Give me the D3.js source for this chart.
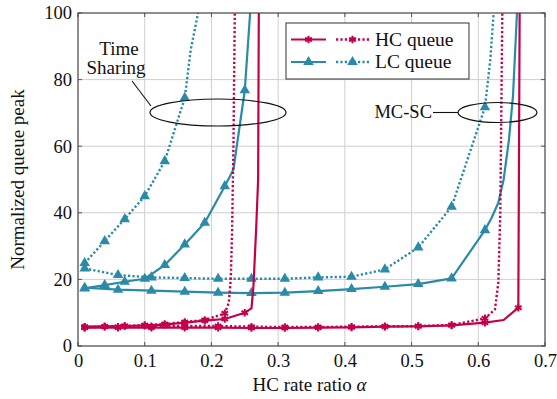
<!DOCTYPE html>
<html>
<head>
<meta charset="utf-8">
<script src="https://cdn.jsdelivr.net/npm/d3@7"></script>
<style>
  body { margin: 0; background: #fff; }
  svg text { font-family: "Liberation Serif", "DejaVu Serif", serif; fill: #111; }
</style>
</head>
<body>
<svg id="chart" width="557" height="399"></svg>
<script>
// ---- data ----
var xTicks = [0, 0.1, 0.2, 0.3, 0.4, 0.5, 0.6, 0.7];
var yTicks = [0, 20, 40, 60, 80, 100];

// marker positions for each group
var tsMarkX = [0.01, 0.04, 0.07, 0.10, 0.13, 0.16, 0.19, 0.22, 0.25];
var mcMarkX = [0.01, 0.06, 0.11, 0.16, 0.21, 0.26, 0.31, 0.36, 0.41, 0.46, 0.51, 0.56, 0.61, 0.66];

// Time Sharing
var tsHcSolid = [[0.01, 5.8], [0.04, 5.9], [0.07, 6.0], [0.10, 6.2], [0.13, 6.4], [0.16, 7.0], [0.19, 7.6],
                 [0.22, 8.1], [0.25, 10.0], [0.26, 11.3], [0.263, 18], [0.267, 35], [0.27, 50], [0.271, 100]];
var tsHcDot   = [[0.01, 5.6], [0.04, 5.8], [0.07, 6.0], [0.10, 6.2], [0.13, 6.6], [0.16, 7.2], [0.19, 7.8],
                 [0.22, 9.8], [0.226, 13], [0.229, 20], [0.231, 35], [0.233, 60], [0.235, 100]];
var tsLcSolid = [[0.01, 17.3], [0.04, 18.3], [0.07, 19.3], [0.10, 20.2], [0.13, 24.3], [0.16, 30.5], [0.19, 37],
                 [0.22, 48], [0.233, 53], [0.25, 76.8], [0.258, 100]];
var tsLcDot   = [[0.01, 24.9], [0.04, 31.5], [0.07, 38.1], [0.10, 45], [0.13, 55.5], [0.16, 74.5],
                 [0.169, 89], [0.18, 100]];

// MC-SC
var mcHcSolid = [[0.01, 5.5], [0.06, 5.5], [0.11, 5.5], [0.16, 5.5], [0.21, 5.5], [0.26, 5.4], [0.31, 5.4],
                 [0.36, 5.5], [0.41, 5.6], [0.46, 5.8], [0.51, 5.9], [0.56, 6.2], [0.61, 7.0], [0.638, 7.8],
                 [0.66, 11.5], [0.662, 100]];
var mcHcDot   = [[0.01, 5.7], [0.06, 5.8], [0.11, 5.9], [0.16, 6.0], [0.21, 6.0], [0.26, 5.8], [0.31, 5.7],
                 [0.36, 5.7], [0.41, 5.8], [0.46, 5.9], [0.51, 6.0], [0.56, 6.3], [0.61, 8.3], [0.625, 11],
                 [0.63, 19], [0.633, 40], [0.636, 100]];
var mcLcSolid = [[0.01, 17.5], [0.06, 16.9], [0.11, 16.6], [0.16, 16.3], [0.21, 16.0], [0.26, 15.9], [0.31, 16.0],
                 [0.36, 16.5], [0.41, 17.1], [0.46, 17.8], [0.51, 18.6], [0.56, 20.3], [0.61, 34.8], [0.62, 38.5],
                 [0.63, 43], [0.638, 50], [0.646, 62], [0.652, 75], [0.658, 100]];
var mcLcDot   = [[0.01, 23.3], [0.06, 21.3], [0.11, 20.6], [0.16, 20.4], [0.21, 20.2], [0.26, 20.2], [0.31, 20.2],
                 [0.36, 20.6], [0.41, 20.8], [0.46, 23.0], [0.51, 29.6], [0.56, 41.8], [0.61, 71.7],
                 [0.618, 86], [0.623, 100]];

var HC = '#c4004b', LC = '#2a8aa8';

var series = [
  {pts: tsLcDot,   color: LC, dot: true,  mark: 'tri',  marks: tsMarkX},
  {pts: tsLcSolid, color: LC, dot: false, mark: 'tri',  marks: tsMarkX},
  {pts: mcLcDot,   color: LC, dot: true,  mark: 'tri',  marks: mcMarkX},
  {pts: mcLcSolid, color: LC, dot: false, mark: 'tri',  marks: mcMarkX},
  {pts: tsHcDot,   color: HC, dot: true,  mark: 'star', marks: tsMarkX},
  {pts: tsHcSolid, color: HC, dot: false, mark: 'star', marks: tsMarkX},
  {pts: mcHcDot,   color: HC, dot: true,  mark: 'star', marks: mcMarkX},
  {pts: mcHcSolid, color: HC, dot: false, mark: 'star', marks: mcMarkX}
];

// ---- layout ----
var W = 557, H = 399;
var margin = {top: 13, right: 12, bottom: 53, left: 78};
var iw = W - margin.left - margin.right,
    ih = H - margin.top - margin.bottom;

var svg = d3.select('#chart');
var g = svg.append('g').attr('transform', 'translate(' + margin.left + ',' + margin.top + ')');

var x = d3.scaleLinear().domain([0, 0.7]).range([0, iw]);
var y = d3.scaleLinear().domain([0, 100]).range([ih, 0]);

// grid
g.append('g').selectAll('line.gx').data(xTicks.slice(1, -1)).enter().append('line')
  .attr('x1', function (d) { return x(d); }).attr('x2', function (d) { return x(d); })
  .attr('y1', 0).attr('y2', ih)
  .attr('stroke', '#cfcfcf').attr('stroke-width', 1);
g.append('g').selectAll('line.gy').data(yTicks.slice(1, -1)).enter().append('line')
  .attr('y1', function (d) { return y(d); }).attr('y2', function (d) { return y(d); })
  .attr('x1', 0).attr('x2', iw)
  .attr('stroke', '#cfcfcf').attr('stroke-width', 1);

// axes (labels only, ticks drawn inward below)
var xAxis = g.append('g').attr('transform', 'translate(0,' + ih + ')')
  .call(d3.axisBottom(x).tickValues(xTicks).tickSize(0).tickPadding(8).tickFormat(d3.format('')));
var yAxis = g.append('g')
  .call(d3.axisLeft(y).tickValues(yTicks).tickSize(0).tickPadding(6).tickFormat(d3.format('')));
[xAxis, yAxis].forEach(function (a) {
  a.select('.domain').remove();
  a.selectAll('text').style('font-size', '18.5px').attr('fill', '#111');
});

// inward tick marks on all four sides
var tl = 4;
xTicks.forEach(function (t) {
  g.append('line').attr('x1', x(t)).attr('x2', x(t)).attr('y1', ih).attr('y2', ih - tl).attr('stroke', '#555');
  g.append('line').attr('x1', x(t)).attr('x2', x(t)).attr('y1', 0).attr('y2', tl).attr('stroke', '#555');
});
yTicks.forEach(function (t) {
  g.append('line').attr('y1', y(t)).attr('y2', y(t)).attr('x1', 0).attr('x2', tl).attr('stroke', '#555');
  g.append('line').attr('y1', y(t)).attr('y2', y(t)).attr('x1', iw).attr('x2', iw - tl).attr('stroke', '#555');
});

// clip
svg.append('defs').append('clipPath').attr('id', 'clip')
  .append('rect').attr('x', 0).attr('y', 0).attr('width', iw).attr('height', ih);

var line = d3.line().x(function (d) { return x(d[0]); }).y(function (d) { return y(d[1]); });
var plot = g.append('g').attr('clip-path', 'url(#clip)');

function starPath(r) {
  var p = '';
  for (var k = 0; k < 3; k++) {
    var a = Math.PI / 2 + k * Math.PI / 3;
    p += 'M' + (r * Math.cos(a)) + ',' + (r * Math.sin(a)) + 'L' + (-r * Math.cos(a)) + ',' + (-r * Math.sin(a));
  }
  return p;
}
var triPath = d3.symbol().type(d3.symbolTriangle).size(48)();

function drawMark(sel, s) {
  if (s.mark === 'tri') {
    sel.append('path').attr('d', triPath).attr('fill', s.color);
  } else {
    sel.append('path').attr('d', starPath(3.8)).attr('stroke', s.color)
      .attr('stroke-width', 2).attr('fill', 'none');
  }
}

series.forEach(function (s) {
  plot.append('path').datum(s.pts).attr('d', line)
    .attr('fill', 'none').attr('stroke', s.color)
    .attr('stroke-width', s.dot ? 2.4 : 2.2)
    .attr('stroke-dasharray', s.dot ? '2.2,2.2' : null)
    .attr('stroke-linejoin', 'round');
  var mk = s.pts.filter(function (p) {
    return s.marks.some(function (m) { return Math.abs(m - p[0]) < 1e-6; });
  });
  mk.forEach(function (p) {
    var m = plot.append('g').attr('transform', 'translate(' + x(p[0]) + ',' + y(p[1]) + ')');
    drawMark(m, s);
  });
});

// frame
g.append('rect').attr('width', iw).attr('height', ih)
  .attr('fill', 'none').attr('stroke', '#444').attr('stroke-width', 1.2);

// annotations
var ann = svg.append('g');
ann.append('ellipse').attr('cx', 218).attr('cy', 112.5).attr('rx', 68).attr('ry', 13.5)
  .attr('fill', 'none').attr('stroke', '#111').attr('stroke-width', 1.2);
ann.append('line').attr('x1', 132).attr('y1', 81).attr('x2', 151).attr('y2', 106)
  .attr('stroke', '#111').attr('stroke-width', 1.1);
ann.append('text').attr('x', 119).attr('y', 55).attr('text-anchor', 'middle')
  .style('font-size', '19px').text('Time');
ann.append('text').attr('x', 116).attr('y', 74).attr('text-anchor', 'middle')
  .style('font-size', '19px').text('Sharing');

ann.append('ellipse').attr('cx', 497.5).attr('cy', 112.5).attr('rx', 39.5).attr('ry', 10)
  .attr('fill', 'none').attr('stroke', '#111').attr('stroke-width', 1.2);
ann.append('line').attr('x1', 433).attr('y1', 112.5).attr('x2', 458).attr('y2', 112.5)
  .attr('stroke', '#111').attr('stroke-width', 1.1);
ann.append('text').attr('x', 432).attr('y', 118).attr('text-anchor', 'end')
  .style('font-size', '18.5px').text('MC-SC');

// legend
var leg = svg.append('g');
leg.append('rect').attr('x', 286).attr('y', 23).attr('width', 183).attr('height', 56)
  .attr('fill', '#fff').attr('stroke', '#333').attr('stroke-width', 1);
var legRows = [
  {label: 'HC queue', color: HC, mark: 'star', cy: 39.5},
  {label: 'LC queue', color: LC, mark: 'tri', cy: 62}
];
legRows.forEach(function (r) {
  leg.append('line').attr('x1', 291).attr('x2', 326).attr('y1', r.cy).attr('y2', r.cy)
    .attr('stroke', r.color).attr('stroke-width', 2.2);
  drawMark(leg.append('g').attr('transform', 'translate(308.5,' + r.cy + ')'), r);
  leg.append('line').attr('x1', 336).attr('x2', 369).attr('y1', r.cy).attr('y2', r.cy)
    .attr('stroke', r.color).attr('stroke-width', 2.4).attr('stroke-dasharray', '2.2,2.2');
  drawMark(leg.append('g').attr('transform', 'translate(352.5,' + r.cy + ')'), r);
  leg.append('text').attr('x', 375).attr('y', r.cy + 6).style('font-size', '19.5px').text(r.label);
});

// axis titles
var xt = svg.append('text').attr('x', margin.left + iw / 2 - 2).attr('y', 391)
  .attr('text-anchor', 'middle').style('font-size', '19px');
xt.append('tspan').text('HC rate ratio ');
xt.append('tspan').style('font-style', 'italic').text('α');

svg.append('text').attr('transform', 'translate(24,' + (margin.top + ih / 2) + ') rotate(-90)')
  .attr('text-anchor', 'middle').style('font-size', '19px').text('Normalized queue peak');
</script>
</body>
</html>
